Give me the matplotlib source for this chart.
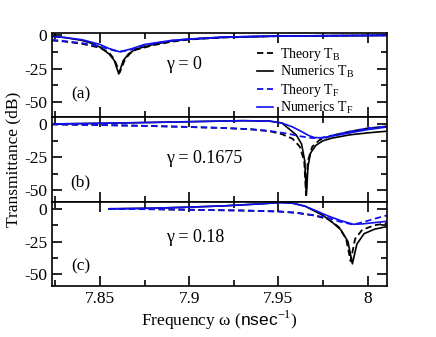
import matplotlib
matplotlib.use("Agg")
import matplotlib.pyplot as plt
from matplotlib.ticker import MultipleLocator

plt.rcParams['font.family'] = ['Liberation Serif', 'DejaVu Serif']
plt.rcParams['mathtext.fontset'] = 'custom'
plt.rcParams['mathtext.rm'] = 'Liberation Serif'
plt.rcParams['mathtext.sf'] = 'Liberation Sans'

# ---- panel (a), gamma = 0
a_x_bs = [7.823, 7.83, 7.84, 7.845, 7.85, 7.855, 7.858, 7.8605, 7.863, 7.866, 7.87, 7.88, 7.89, 7.9, 7.92, 7.95, 8.0, 8.011]
a_y_bs = [-1, -1.8, -4, -6, -9, -14, -19, -29, -19, -14, -10.5, -7, -4.5, -3, -1.5, -0.7, -0.3, -0.2]
a_x_bd = [7.823, 7.83, 7.84, 7.85, 7.855, 7.858, 7.861, 7.864, 7.867, 7.87, 7.88, 7.89, 7.9, 7.92, 7.95, 8.0, 8.011]
a_y_bd = [-4, -4.8, -6.5, -9.5, -13, -18, -28, -18, -13.5, -11, -7.5, -5, -3.3, -1.8, -0.8, -0.3, -0.2]
a_x_fs = [7.823, 7.83, 7.84, 7.85, 7.855, 7.861, 7.867, 7.875, 7.89, 7.9, 7.92, 7.95, 8.011]
a_y_fs = [-1, -1.8, -3.5, -7, -10, -12.5, -10.5, -7, -4, -3, -1.5, -0.7, -0.2]
a_x_fd = [7.823, 7.83, 7.84, 7.85, 7.855, 7.861, 7.867, 7.875, 7.89, 7.9, 7.92, 7.95, 8.011]
a_y_fd = [-3.5, -4.5, -6, -8.5, -10.5, -12.5, -11, -7.5, -4.2, -3, -1.6, -0.8, -0.2]

# ---- panel (b), gamma = 0.1675
b_x_fs = [7.823, 7.85, 7.88, 7.91, 7.93, 7.945, 7.952, 7.958, 7.963, 7.967, 7.97, 7.975, 7.98, 7.99, 8.0, 8.011]
b_y_fs = [0.3, 0.8, 1.5, 2.3, 2.8, 2.5, 1, -2, -5.5, -8.5, -10, -10.3, -9, -6.5, -4, -2]
b_x_bs = [7.823, 7.85, 7.88, 7.91, 7.93, 7.945, 7.952, 7.956, 7.96, 7.963, 7.9648, 7.9657, 7.9666, 7.968, 7.971, 7.975, 7.98, 7.99, 8.0, 8.011]
b_y_bs = [0.3, 0.8, 1.5, 2.3, 2.8, 2.5, 1, -3.5, -8, -15, -28, -54, -32, -22, -16, -12.5, -10.5, -8, -6.5, -5.2]
b_x_bd = [7.823, 7.85, 7.88, 7.9, 7.92, 7.935, 7.945, 7.952, 7.958, 7.962, 7.9645, 7.9655, 7.9665, 7.969, 7.973, 7.98, 7.99, 8.0, 8.011]
b_y_bd = [0, -0.5, -1.3, -2, -2.8, -3.8, -5.2, -7.5, -11, -17, -28, -54, -28, -17, -12, -8.5, -5.5, -3, -1.5]
b_x_fd = [7.823, 7.85, 7.88, 7.9, 7.92, 7.935, 7.945, 7.955, 7.962, 7.968, 7.973, 7.98, 7.99, 8.0, 8.011]
b_y_fd = [0, -0.5, -1.3, -2, -2.8, -3.8, -5, -7, -9, -10.3, -10.5, -8.5, -5.5, -3, -1.5]

# ---- panel (c), gamma = 0.18
c_x_fs = [7.855, 7.88, 7.9, 7.92, 7.94, 7.951, 7.958, 7.965, 7.972, 7.978, 7.985, 7.992, 7.997, 8.004, 8.011]
c_y_fs = [0, 0.5, 1.3, 2.3, 3.8, 4.8, 4.3, 2, -2, -5.5, -9, -11.8, -11.5, -10.5, -9.5]
c_x_bs = [7.855, 7.88, 7.9, 7.92, 7.94, 7.951, 7.958, 7.965, 7.97, 7.975, 7.98, 7.985, 7.989, 7.9915, 7.994, 7.998, 8.004, 8.011]
c_y_bs = [0, 0.5, 1.3, 2.3, 3.8, 4.8, 4.3, 2, -1.5, -5, -10, -16, -25, -42, -27, -19, -15.5, -13.5]
c_x_fd = [7.855, 7.88, 7.9, 7.93, 7.95, 7.96, 7.97, 7.978, 7.985, 7.992, 7.998, 8.004, 8.011]
c_y_fd = [0, -0.3, -0.7, -1.3, -2, -3, -5, -7, -10, -12, -10, -7.5, -5]
c_x_bd = [7.855, 7.88, 7.9, 7.93, 7.95, 7.96, 7.97, 7.978, 7.984, 7.988, 7.9905, 7.993, 7.997, 8.004, 8.011]
c_y_bd = [0, -0.3, -0.7, -1.3, -2, -3, -5, -8, -14, -23, -40, -23, -16, -12.5, -11]

panels = [
    (a_x_bd, a_y_bd, a_x_bs, a_y_bs, a_x_fd, a_y_fd, a_x_fs, a_y_fs, "(a)", "γ = 0", (-61.4, 1.5)),
    (b_x_bd, b_y_bd, b_x_bs, b_y_bs, b_x_fd, b_y_fd, b_x_fs, b_y_fs, "(b)", "γ = 0.1675", (-59, 5.3)),
    (c_x_bd, c_y_bd, c_x_bs, c_y_bs, c_x_fd, c_y_fd, c_x_fs, c_y_fs, "(c)", "γ = 0.18", (-59, 5.4)),
]
labels = ["Theory T$_\\mathrm{B}$", "Numerics T$_\\mathrm{B}$", "Theory T$_\\mathrm{F}$", "Numerics T$_\\mathrm{F}$"]
serif = 'Liberation Serif'

fig = plt.figure(figsize=(4.36, 3.37), dpi=100)
left, width = 0.119, 0.769
bottom, h = 0.151, 0.2503
axes = []
for i, p in enumerate(panels):
    ax = fig.add_axes([left, bottom + (2 - i) * h, width, h])
    axes.append(ax)
    xbd, ybd, xbs, ybs, xfd, yfd, xfs, yfs, tag, gam, yl = p
    dash = (0, (3.5, 2))
    ax.plot(xbd, ybd, color='black', lw=1.3, ls=dash, label=labels[0])
    ax.plot(xbs, ybs, color='black', lw=1.2, label=labels[1])
    ax.plot(xfd, yfd, color='#1010ee', lw=1.3, ls=dash, label=labels[2])
    ax.plot(xfs, yfs, color='#1010ee', lw=1.2, label=labels[3])
    ax.set_xlim(7.823, 8.011)
    ax.set_ylim(*yl)
    ax.xaxis.set_major_locator(MultipleLocator(0.05))
    ax.xaxis.set_minor_locator(MultipleLocator(0.025))
    ax.yaxis.set_major_locator(MultipleLocator(25))
    ax.yaxis.set_minor_locator(MultipleLocator(12.5))
    ax.tick_params(which='both', direction='in', top=True, right=True, width=1.2)
    ax.tick_params(which='major', length=7)
    ax.tick_params(which='minor', length=4)
    ax.set_yticks([0, -25, -50])
    ax.set_yticklabels(["0", "-25", "-50"], fontfamily=serif, fontsize=12.5)
    for s in ax.spines.values():
        s.set_linewidth(1.2)
    ax.text(7.839, -44, tag, ha='center', va='center', fontsize=12.5)
    ax.text(7.887, -22 if i != 1 else -26, gam, ha='left', va='center', fontsize=13)
    if i < 2:
        ax.tick_params(labelbottom=False)

axes[0].legend(loc='upper left', bbox_to_anchor=(0.59, 0.93), frameon=False, fontsize=10,
               handlelength=1.2, handletextpad=0.5, labelspacing=0.08, borderpad=0)
axes[1].set_ylabel("Transmittance (dB)", fontsize=12.5, labelpad=2)
axes[2].set_xticks([7.85, 7.9, 7.95, 8.0])
axes[2].set_xticklabels(["7.85", "7.9", "7.95", "8"], fontfamily=serif, fontsize=12.5)
axes[2].set_xlabel(r"Frequency ω ($\mathsf{nsec}^{-1}$)", fontsize=12.5, labelpad=1)

fig.savefig("out.png", dpi=100)
